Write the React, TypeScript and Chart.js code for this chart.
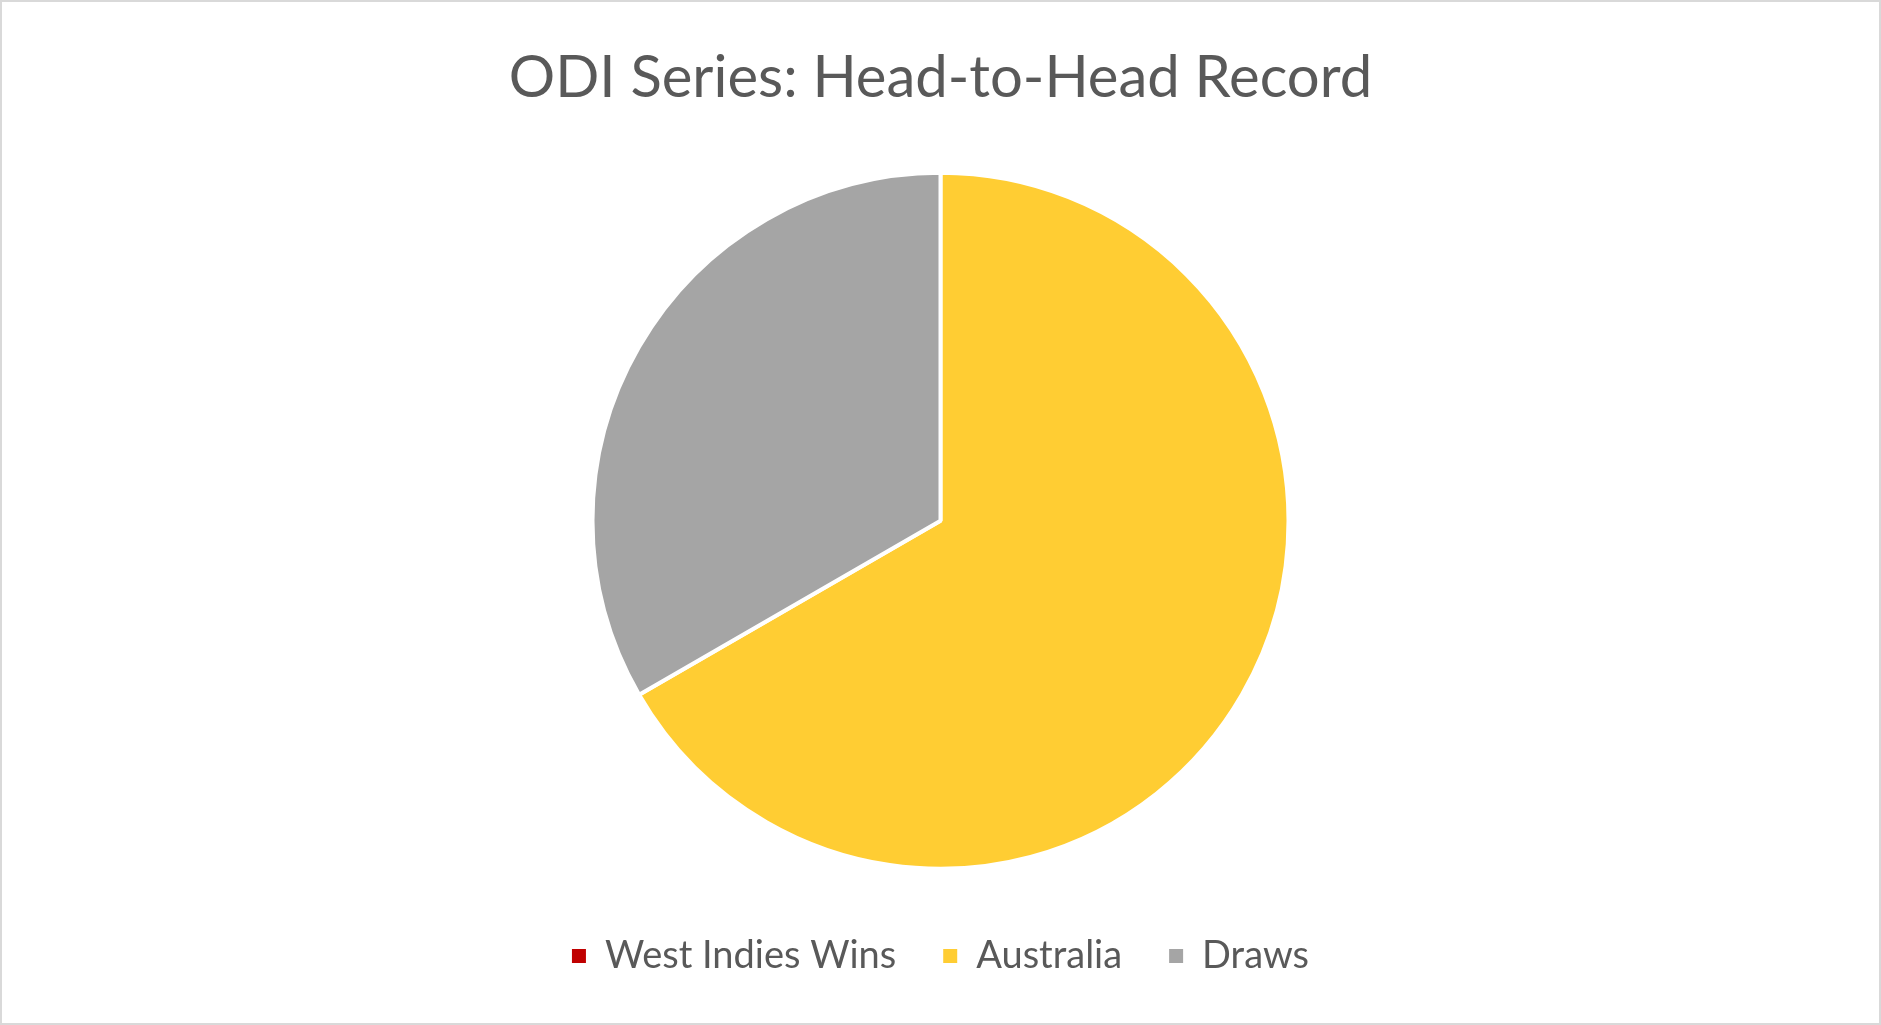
import React, { useEffect, useRef } from "react";
import { Chart, registerables } from "chart.js";

Chart.register(...registerables);

const titleText = "ODI Series: Head-to-Head Record";
const categories = ["West Indies Wins", "Australia", "Draws"];
const seriesValues = [0, 2, 1];
const sliceColors = ["#C00000", "#FFCD33", "#A5A5A5"];

const FONT = "Lato, 'Open Sans', sans-serif";
const TEXT_COLOR = "#595959";

export default function App() {
  const canvasRef = useRef<HTMLCanvasElement | null>(null);

  useEffect(() => {
    const canvas = canvasRef.current;
    if (!canvas) return;
    const chart = new Chart(canvas, {
      type: "pie",
      data: {
        labels: categories,
        datasets: [
          {
            data: seriesValues,
            backgroundColor: sliceColors,
            borderColor: "#FFFFFF",
            borderWidth: 4,
            radius: 348,
          },
        ],
      },
      options: {
        animation: false,
        responsive: false,
        maintainAspectRatio: false,
        layout: { padding: { top: 0, bottom: 38, left: 0, right: 0 } },
        plugins: {
          title: {
            display: true,
            text: titleText,
            color: TEXT_COLOR,
            font: { family: FONT, size: 58, weight: "normal" },
            padding: { top: 41, bottom: 39 },
          },
          legend: {
            display: true,
            position: "bottom",
            labels: {
              color: TEXT_COLOR,
              font: { family: FONT, size: 38 },
              boxWidth: 14,
              boxHeight: 14,
              padding: 47,
              generateLabels: (c: any) => {
                const base = Chart.overrides.pie.plugins.legend.labels.generateLabels(c);
                return base.map((item: any) => ({ ...item, lineWidth: 0, strokeStyle: "rgba(0,0,0,0)" }));
              },
            },
          },
          tooltip: { enabled: false },
        },
      },
    });
    return () => chart.destroy();
  }, []);

  return (
    <>
      <style>{"body{margin:0;}"}</style>
      <div
        style={{
          width: 1881,
          height: 1025,
          boxSizing: "border-box",
          border: "2px solid #D9D9D9",
          background: "#FFFFFF",
        }}
      >
        <canvas ref={canvasRef} width={1877} height={1021} style={{ display: "block", width: 1877, height: 1021 }} />
      </div>
    </>
  );
}
